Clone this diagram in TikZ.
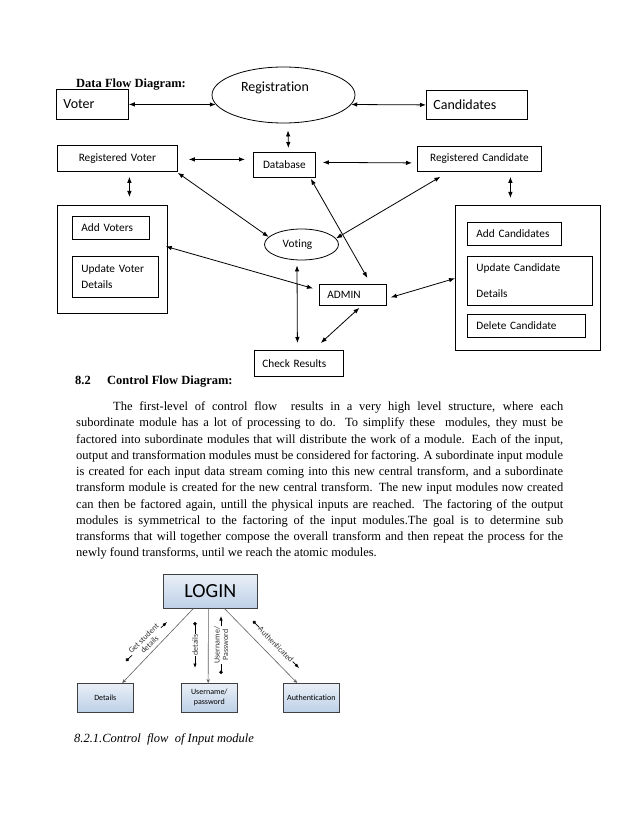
\documentclass[tikz,border=0pt]{standalone}
\usepackage{fontspec}
\setmainfont{Liberation Serif}
\newfontfamily\carl[Ligatures=NoCommon]{Carlito}
\usetikzlibrary{arrows.meta,shapes.geometric,calc}
\definecolor{ltop}{HTML}{E9EFF7}
\definecolor{lbot}{HTML}{BDD0E7}
\definecolor{lborder}{HTML}{404040}
\definecolor{lconn}{HTML}{606060}
\begin{document}
\begin{tikzpicture}[x=1pt,y=-1pt,
  box/.style={draw, line width=0.8pt, anchor=north west, inner ysep=0pt, align=left},
  frame/.style={draw, line width=0.8pt, anchor=north west, inner sep=0pt},
  oval/.style={draw, ellipse, line width=0.8pt, inner sep=0pt},
  big/.style={font=\carl\fontsize{14}{17}\selectfont},
  sm/.style={font=\carl\fontsize{11.3}{16}\selectfont},
  dbl/.style={{Latex[length=6pt,width=4.5pt]}-{Latex[length=6pt,width=4.5pt]}, line width=0.8pt},
  head/.style={font=\bfseries\fontsize{12.5}{15}\selectfont, anchor=base west, inner sep=0pt},
  para/.style={font=\fontsize{12.5}{16}\selectfont, anchor=base west, inner sep=0pt},
  lbox/.style={draw=lborder, line width=0.6pt, top color=ltop, bottom color=lbot, anchor=north west,
    minimum width=56pt, minimum height=29pt, align=center, inner sep=1pt,
    font=\carl\fontsize{8}{10}\selectfont},
  conn/.style={draw=lconn, line width=0.6pt, -{Stealth[length=4pt,width=3.5pt]}},
  msg/.style={{Circle[length=3.5pt]}-{Latex[length=4.5pt,width=3.5pt]}, line width=0.7pt},
  mlab/.style={fill=white, inner sep=0.6pt, align=center, text=black!80,
    font=\carl\fontsize{8}{8.5}\selectfont}
]
\useasboundingbox (0,0) rectangle (638,826);

% ---------------- Data flow diagram ----------------
\node[head] (dfdtitle) at (76,88) {Data Flow Diagram:};

\node[box, big, minimum height=30pt, inner xsep=7pt, text width=58pt] (voter) at (56,89) {Voter};
\node[oval, minimum width=143pt, minimum height=56pt,
  label={[big, xshift=-8.5pt, yshift=7pt]center:Registration}] (reg) at (283.5,95) {};
\node[box, big, minimum height=29pt, inner xsep=7pt, text width=87pt] (cand) at (426,90) {Candidates};

\node[box, sm, minimum height=26pt, inner xsep=4pt, text width=112pt, align=center] (regvoter) at (57,145) {Registered Voter};
\node[box, sm, minimum height=25pt, inner xsep=4pt, text width=54pt, align=center] (db) at (253,152) {Database};
\node[box, sm, minimum height=25pt, inner xsep=4pt, text width=116pt, align=center] (regcand) at (417,146) {Registered Candidate};

\node[frame, minimum width=110pt, minimum height=108pt] (leftbox) at (57,205) {};
\node[box, sm, minimum height=23pt, inner xsep=9pt, text width=59pt] (addv) at (72,216) {Add Voters};
\node[box, sm, minimum height=41pt, inner xsep=9pt, text width=68pt] (updv) at (72,256) {Update Voter\\Details};

\node[oval, minimum width=74pt, minimum height=31pt,
  label={[sm, xshift=-4pt]center:Voting}] (voting) at (301.5,244.5) {};
\node[box, sm, minimum height=21pt, inner xsep=8pt, text width=51pt] (admin) at (319,284) {ADMIN};
\node[box, sm, minimum height=26pt, inner xsep=8pt, text width=73pt] (check) at (254,350) {Check Results};

\node[frame, minimum width=145pt, minimum height=145pt] (rightbox) at (455,205) {};
\node[box, sm, minimum height=23pt, inner xsep=9pt, text width=76pt] (addc) at (467,222) {Add Candidates};
\node[box, sm, minimum height=49pt, inner xsep=9pt, text width=107pt, font=\carl\fontsize{11.3}{26}\selectfont] (updc) at (467,256) {Update Candidate\\Details};
\node[box, sm, minimum height=23pt, inner xsep=9pt, text width=100pt] (delc) at (467,314) {Delete Candidate};

\draw[dbl] (voter.east) -- (reg.188);
\draw[dbl] (reg.352) -- (cand.west);
\draw[dbl] ([xshift=4.5pt,yshift=-7pt]reg.south) -- ([xshift=4pt,yshift=4pt]db.north);
\draw[dbl] ([xshift=11pt,yshift=-1pt]regvoter.east) -- ([xshift=-8pt,yshift=5.5pt]db.west);
\draw[dbl] ([xshift=7pt,yshift=2.5pt]db.east) -- ([xshift=-5pt,yshift=-4pt]regcand.west);
\draw[dbl] ([xshift=12pt,yshift=-5pt]regvoter.south) -- ([xshift=17pt,yshift=8pt]leftbox.north);
\draw[dbl] ([yshift=-1pt]regvoter.south east) -- (voting.167);
\draw[dbl] ([xshift=-5pt,yshift=-1pt]db.south east) -- ([xshift=14.5pt,yshift=6pt]admin.north);
\draw[dbl] ([xshift=-39pt,yshift=-5pt]regcand.south) -- (voting.10);
\draw[dbl] ([xshift=31pt,yshift=-5pt]regcand.south) -- ([xshift=-17.5pt,yshift=7pt]rightbox.north);
\draw[dbl] ([xshift=4pt,yshift=-2.5pt]admin.east) -- ([yshift=-0.5pt]rightbox.west);
\draw[dbl] ([xshift=-2pt,yshift=13pt]leftbox.east) -- ([xshift=-6pt,yshift=6.5pt]admin.west);
\draw[dbl] ([xshift=-4.5pt,yshift=-5pt]voting.south) -- ([xshift=-1.5pt,yshift=7pt]check.north);
\draw[dbl] ([xshift=6.5pt,yshift=-2pt]admin.south) -- ([xshift=-23pt,yshift=7pt]check.north east);

% ---------------- Section text ----------------
\node[head] (secnum) at (75,384) {8.2};
\node[head] (sectitle) at (107,384) {Control Flow Diagram:};

\node[para] (p1) at (113,410.5) {\makebox[450pt][s]{The first-level of control flow\ \ results in a very high level structure, where each}};
\node[para] (p2) at (76,426.75) {\makebox[487pt][s]{subordinate module has a lot of processing to do. To simplify these\ \ modules, they must be}};
\node[para] (p3) at (76,443) {\makebox[487pt][s]{factored into subordinate modules that will distribute the work of a module. Each of the input,}};
\node[para] (p4) at (76,459.25) {\makebox[487pt][s]{output and transformation modules must be considered for factoring. A subordinate input module}};
\node[para] (p5) at (76,475.5) {\makebox[487pt][s]{is created for each input data stream coming into this new central transform, and a subordinate}};
\node[para] (p6) at (76,491.75) {\makebox[487pt][s]{transform module is created for the new central transform. The new input modules now created}};
\node[para] (p7) at (76,508) {\makebox[487pt][s]{can then be factored again, untill the physical inputs are reached. The factoring of the output}};
\node[para] (p8) at (76,524.25) {\makebox[487pt][s]{modules is symmetrical to the factoring of the input modules.The goal is to determine sub}};
\node[para] (p9) at (76,540.5) {\makebox[487pt][s]{transforms that will together compose the overall transform and then repeat the process for the}};
\node[para] (p10) at (76,556.75) {newly found transforms, until we reach the atomic modules.};

% ---------------- Login control flow ----------------
\node[lbox, minimum width=94pt, minimum height=34pt, font=\carl\fontsize{20}{24}\selectfont] (login) at (163,574) {LOGIN};
\node[lbox] (details) at (77,683) {Details};
\node[lbox] (userpw) at (181,683) {Username/\\password};
\node[lbox] (auth) at (283,683) {Authentication};

\draw[conn] ($(login.south west)!0.32!(login.south east)$) -- ($(details.north west)!0.8!(details.north east)$);
\draw[conn] ($(login.south west)!0.48!(login.south east)$) -- ($(userpw.north west)!0.48!(userpw.north east)$);
\draw[conn] ($(login.south west)!0.65!(login.south east)$) -- ($(auth.north west)!0.25!(auth.north east)$);

\coordinate (m1s) at (126,661); \coordinate (m1e) at (167,622);
\coordinate (m2s) at (195,622); \coordinate (m2e) at (195,668);
\coordinate (m3s) at (221,674); \coordinate (m3e) at (221,616);
\coordinate (m4s) at (253,621); \coordinate (m4e) at (299,668);
\draw[msg] (m1s) -- (m1e);
\draw[msg] (m2s) -- (m2e);
\draw[msg] (m3s) -- (m3e);
\draw[msg] (m4s) -- (m4e);
\node[mlab, rotate=44] (l1) at ($(m1s)!0.5!(m1e)$) {Get student\\details};
\node[mlab, rotate=90] (l2) at ($(m2s)!0.5!(m2e)$) {details};
\node[mlab, rotate=90] (l3) at ($(m3s)!0.5!(m3e)$) {Username/\\Password};
\node[mlab, rotate=-45.6] (l4) at ($(m4s)!0.5!(m4e)$) {Authenticated};

\node[para, font=\itshape\fontsize{12.5}{15}\selectfont] (caption) at (74,742) {8.2.1.Control\ \ flow\ \ of Input module};
\end{tikzpicture}
\end{document}
